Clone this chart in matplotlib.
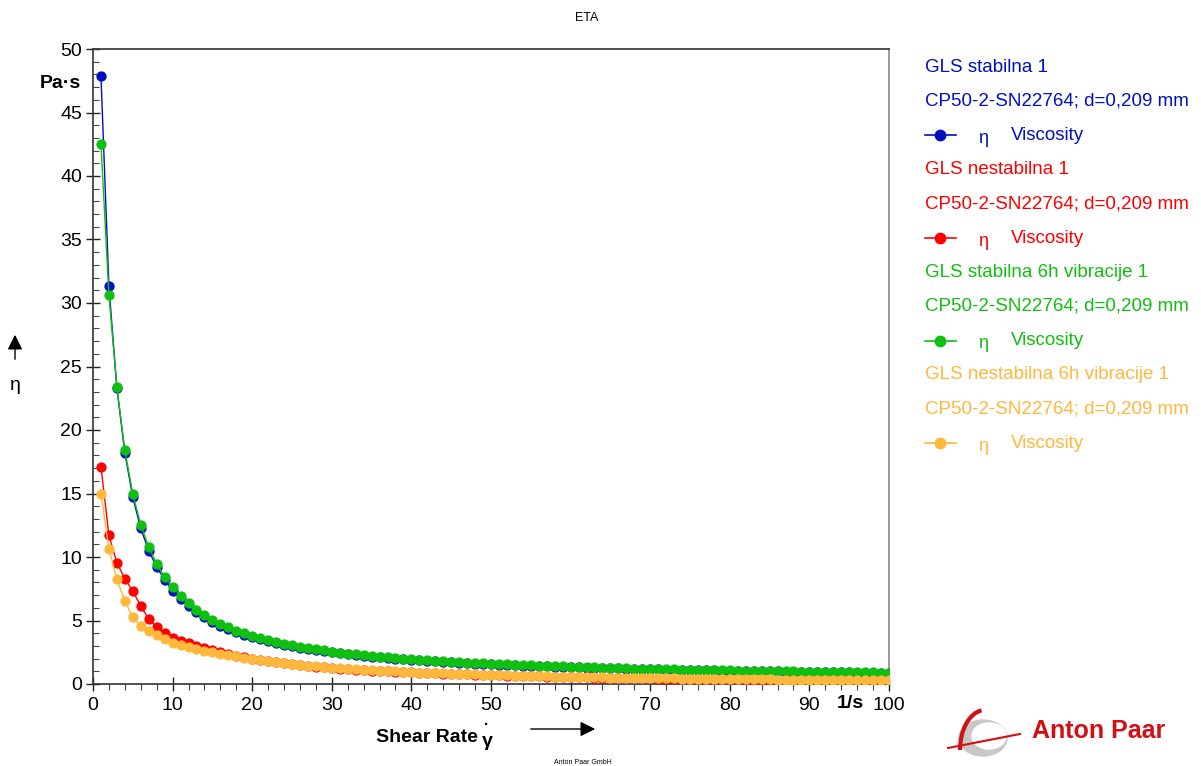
import matplotlib
matplotlib.use("Agg")
import matplotlib.pyplot as plt
from matplotlib.lines import Line2D
from matplotlib.patches import Ellipse, Arc
from matplotlib.ticker import MultipleLocator, FixedLocator

plt.rcParams['font.family'] = ['Liberation Sans', 'DejaVu Sans']

shear_rate = list(range(1, 101))

eta_stabilna = [
    47.9, 31.3, 23.3, 18.2, 14.7, 12.25, 10.5, 9.2, 8.2, 7.35,
    6.7, 6.15, 5.65, 5.25, 4.9, 4.6, 4.33, 4.1, 3.88, 3.69,
    3.52, 3.36, 3.22, 3.09, 2.98, 2.87, 2.77, 2.67, 2.58, 2.5,
    2.42, 2.35, 2.28, 2.21, 2.15, 2.09, 2.04, 1.99, 1.95, 1.9,
    1.86, 1.82, 1.78, 1.74, 1.71, 1.67, 1.64, 1.61, 1.58, 1.55,
    1.53, 1.5, 1.48, 1.45, 1.43, 1.41, 1.39, 1.37, 1.35, 1.33,
    1.31, 1.29, 1.28, 1.26, 1.24, 1.23, 1.21, 1.2, 1.18, 1.17,
    1.15, 1.14, 1.13, 1.12, 1.1, 1.09, 1.08, 1.07, 1.06, 1.05,
    1.04, 1.03, 1.02, 1.01, 1.0, 0.99, 0.98, 0.97, 0.96, 0.95,
    0.94, 0.94, 0.93, 0.92, 0.91, 0.9, 0.9, 0.89, 0.88, 0.87]

eta_nestabilna = [
    17.1, 11.7, 9.55, 8.3, 7.3, 6.15, 5.1, 4.5, 4.0, 3.65,
    3.4, 3.2, 3.0, 2.8, 2.65, 2.5, 2.36, 2.22, 2.1, 1.98,
    1.88, 1.79, 1.71, 1.63, 1.56, 1.49, 1.43, 1.37, 1.32, 1.27,
    1.22, 1.18, 1.14, 1.1, 1.06, 1.03, 1.0, 0.97, 0.94, 0.91,
    0.88, 0.86, 0.83, 0.81, 0.79, 0.77, 0.75, 0.73, 0.71, 0.69,
    0.67, 0.66, 0.64, 0.63, 0.61, 0.6, 0.58, 0.57, 0.56, 0.55,
    0.53, 0.52, 0.51, 0.5, 0.49, 0.48, 0.47, 0.46, 0.45, 0.44,
    0.43, 0.43, 0.42, 0.41, 0.4, 0.39, 0.39, 0.38, 0.37, 0.37,
    0.36, 0.35, 0.35, 0.34, 0.34, 0.33, 0.32, 0.32, 0.31, 0.31,
    0.3, 0.3, 0.29, 0.29, 0.28, 0.28, 0.27, 0.27, 0.26, 0.26]

eta_stabilna_6h = [
    42.5, 30.6, 23.4, 18.4, 14.95, 12.55, 10.8, 9.45, 8.45, 7.65,
    6.95, 6.35, 5.85, 5.4, 5.05, 4.72, 4.45, 4.2, 3.98, 3.78,
    3.6, 3.44, 3.3, 3.17, 3.05, 2.94, 2.83, 2.73, 2.64, 2.55,
    2.47, 2.4, 2.33, 2.26, 2.2, 2.14, 2.09, 2.04, 1.99, 1.95,
    1.9, 1.86, 1.82, 1.78, 1.75, 1.71, 1.68, 1.65, 1.62, 1.59,
    1.56, 1.54, 1.51, 1.49, 1.46, 1.44, 1.42, 1.4, 1.38, 1.36,
    1.34, 1.32, 1.3, 1.29, 1.27, 1.25, 1.24, 1.22, 1.21, 1.19,
    1.18, 1.17, 1.15, 1.14, 1.13, 1.12, 1.1, 1.09, 1.08, 1.07,
    1.06, 1.05, 1.04, 1.03, 1.02, 1.01, 1.0, 0.99, 0.98, 0.97,
    0.96, 0.95, 0.95, 0.94, 0.93, 0.92, 0.91, 0.91, 0.9, 0.89]

eta_nestabilna_6h = [
    15.0, 10.65, 8.25, 6.55, 5.25, 4.55, 4.15, 3.85, 3.55, 3.25,
    3.05, 2.88, 2.72, 2.6, 2.5, 2.38, 2.27, 2.17, 2.07, 1.98,
    1.89, 1.8, 1.72, 1.65, 1.58, 1.51, 1.45, 1.39, 1.34, 1.29,
    1.24, 1.2, 1.16, 1.12, 1.08, 1.05, 1.02, 0.99, 0.96, 0.93,
    0.9, 0.88, 0.85, 0.83, 0.81, 0.79, 0.77, 0.75, 0.73, 0.71,
    0.69, 0.68, 0.66, 0.65, 0.63, 0.62, 0.6, 0.59, 0.58, 0.57,
    0.55, 0.54, 0.53, 0.52, 0.51, 0.5, 0.49, 0.48, 0.47, 0.46,
    0.45, 0.45, 0.44, 0.43, 0.42, 0.41, 0.41, 0.4, 0.39, 0.39,
    0.38, 0.37, 0.37, 0.36, 0.36, 0.35, 0.34, 0.34, 0.33, 0.33,
    0.32, 0.32, 0.31, 0.31, 0.3, 0.3, 0.29, 0.29, 0.28, 0.28]

series_names = ["GLS stabilna 1", "GLS nestabilna 1",
                "GLS stabilna 6h vibracije 1", "GLS nestabilna 6h vibracije 1"]
series_values = [eta_stabilna, eta_nestabilna, eta_stabilna_6h, eta_nestabilna_6h]
colors = ["#0010C0", "#FF0000", "#10C010", "#FFB83C"]
geometry = "CP50-2-SN22764; d=0,209 mm"

x_ticks = [0, 10, 20, 30, 40, 50, 60, 70, 80, 90, 100]
x_ticklabels = ["0", "10", "20", "30", "40", "50", "60", "70", "80", "90", "100"]
y_ticks = [0, 5, 10, 15, 20, 25, 30, 35, 40, 45, 50]

W, H = 1201, 766
fig = plt.figure(figsize=(W / 100, H / 100), dpi=100)
L, R, T, B = 93, 889, 49, 684
ax = fig.add_axes([L / W, 1 - B / H, (R - L) / W, (B - T) / H])

for vals, col in zip(series_values, colors):
    ax.plot(shear_rate, vals, color=col, lw=1.0, marker='o', ms=6.4,
            mec=col, mfc=col, zorder=3)

ax.set_xlim(0, 100)
ax.set_ylim(0, 50)
ax.xaxis.set_major_locator(FixedLocator(x_ticks))
ax.set_xticklabels(x_ticklabels)
ax.xaxis.set_minor_locator(MultipleLocator(2))
ax.yaxis.set_major_locator(FixedLocator(y_ticks))
ax.yaxis.set_minor_locator(MultipleLocator(1))
ax.tick_params(axis='both', which='major', direction='inout', length=10,
               width=1.0, labelsize=14, colors='#222222', labelcolor='black')
ax.tick_params(axis='x', which='minor', direction='out', length=4, width=0.8,
               colors='#444444')
ax.tick_params(axis='y', which='minor', direction='in', length=4, width=0.8,
               colors='#444444')
ax.tick_params(axis='x', pad=4)
ax.tick_params(axis='y', pad=3)
for s in ['left', 'bottom', 'top']:
    ax.spines[s].set_color('#333333')
    ax.spines[s].set_linewidth(1.2)
ax.spines['right'].set_color('#888888')
ax.spines['right'].set_linewidth(1.2)

def fx(px):
    return px / W

def fy(py):
    return 1 - py / H

# title and axis labels
fig.text(fx(587), fy(18), "ETA", ha='center', va='center', fontsize=9)
fig.text(fx(81), fy(83), "Pa·s", ha='right', va='center', fontsize=14,
         fontweight='bold')
fig.text(fx(850), fy(703), "1/s", ha='center', va='center', fontsize=14,
         fontweight='bold')
fig.text(fx(478), fy(738), "Shear Rate", ha='right', va='center', fontsize=14,
         fontweight='bold')
fig.text(fx(487), fy(741), "γ", ha='center', va='center', fontsize=14,
         fontweight='bold')
fig.text(fx(487), fy(725), "·", ha='center', va='center', fontsize=11,
         fontweight='bold')
fig.text(fx(15), fy(385), "η", ha='center', va='center', fontsize=14)
fig.add_artist(matplotlib.patches.FancyArrowPatch(
    (fx(528), fy(729)), (fx(598), fy(729)), transform=fig.transFigure,
    arrowstyle='-|>,head_length=6,head_width=3', color='black', lw=1.0,
    mutation_scale=1.5))
fig.add_artist(matplotlib.patches.FancyArrowPatch(
    (fx(15), fy(362)), (fx(15), fy(332)), transform=fig.transFigure,
    arrowstyle='-|>,head_length=6,head_width=3', color='black', lw=1.0,
    mutation_scale=1.5))
fig.text(fx(583), fy(762), "Anton Paar GmbH", ha='center', va='center',
         fontsize=5)

# legend (manual)
y0 = 67
dy = 34.2
for i, (name, col) in enumerate(zip(series_names, colors)):
    base = y0 + i * 3 * dy
    fig.text(fx(925), fy(base), name, ha='left', va='center', fontsize=13.5,
             color=col)
    fig.text(fx(925), fy(base + dy), geometry, ha='left', va='center',
             fontsize=13.5, color=col)
    yl = base + 2 * dy
    fig.add_artist(Line2D([fx(925), fx(956)], [fy(yl), fy(yl)], color=col,
                          lw=1.2, transform=fig.transFigure))
    fig.add_artist(Line2D([fx(940)], [fy(yl)], color=col, marker='o', ms=7.5,
                          transform=fig.transFigure))
    fig.text(fx(983), fy(yl + 3), "η", ha='center', va='center', fontsize=13,
             color=col)
    fig.text(fx(1011), fy(yl), "Viscosity", ha='left', va='center',
             fontsize=13.5, color=col)

# Anton Paar logo
fig.text(fx(1032), fy(731), "Anton Paar", ha='left', va='center', fontsize=18,
         fontweight='bold', color='#D40F14')
logo_ax = fig.add_axes([fx(945), fy(760), fx(80), (760 - 705) / H])
logo_ax.set_xlim(0, 80)
logo_ax.set_ylim(0, 55)
logo_ax.axis('off')
logo_ax.add_patch(Ellipse((38, 22), 48, 36, color='#C8C8C8', zorder=1))
logo_ax.add_patch(Ellipse((44, 24), 34, 26, color='white', zorder=2))
logo_ax.add_patch(Arc((40, 10), 50, 80, theta1=95, theta2=180, color='#D40F14',
                      lw=3, zorder=3))
logo_ax.plot([3, 75], [12, 26], color='#D40F14', lw=1.5, zorder=3)

fig.savefig("out.png", dpi=100)
